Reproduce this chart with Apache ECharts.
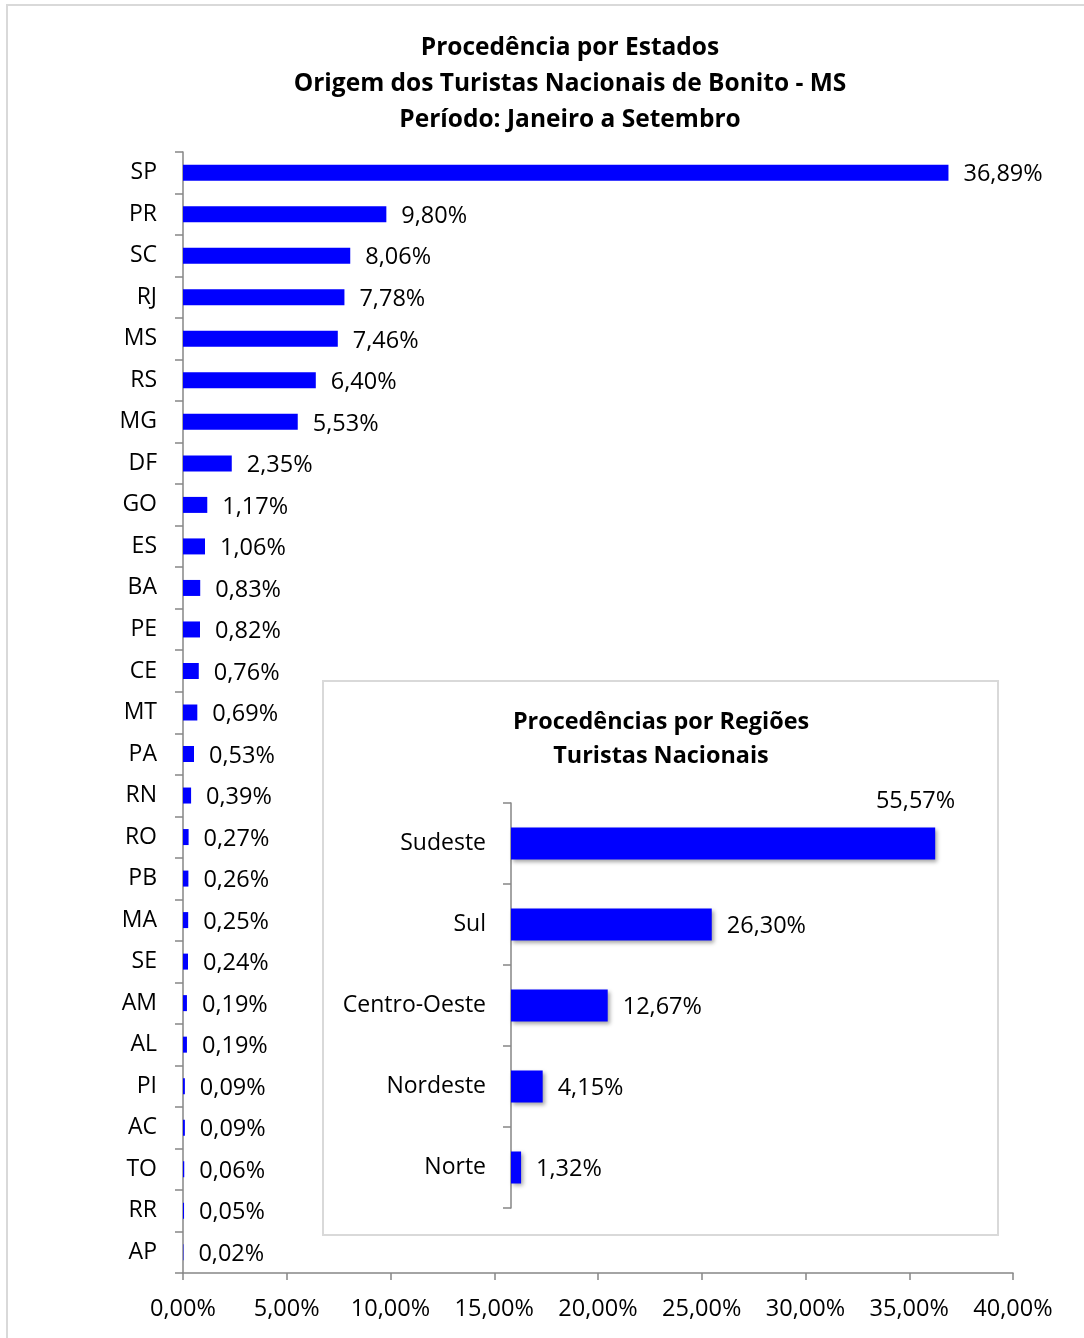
<!DOCTYPE html>
<html>
<head>
<meta charset="utf-8">
<script src="https://cdn.jsdelivr.net/npm/echarts@6/dist/echarts.min.js"></script>
<style>
html,body{margin:0;padding:0;background:#fff;}
#chart{width:1084px;height:1338px;}
</style>
</head>
<body>
<div id="chart"></div>
<script>
const states = ['SP','PR','SC','RJ','MS','RS','MG','DF','GO','ES','BA','PE','CE','MT','PA','RN','RO','PB','MA','SE','AM','AL','PI','AC','TO','RR','AP'];
const stateValues = [36.89,9.80,8.06,7.78,7.46,6.40,5.53,2.35,1.17,1.06,0.83,0.82,0.76,0.69,0.53,0.39,0.27,0.26,0.25,0.24,0.19,0.19,0.09,0.09,0.06,0.05,0.02];
const regions = ['Sudeste','Sul','Centro-Oeste','Nordeste','Norte'];
const regionValues = [55.57,26.30,12.67,4.15,1.32];
const mainTitle = 'Procedência por Estados\nOrigem dos Turistas Nacionais de Bonito - MS\nPeríodo: Janeiro a Setembro';
const insetTitle = 'Procedências por Regiões\nTuristas Nacionais';

const FONT = 'Open Sans';
const NUM = 23.5;
const CAT = 23;
const fmt = v => v.toFixed(2).replace('.', ',') + '%';
const axisGray = '#868686';

const chart = echarts.init(document.getElementById('chart'), null, {renderer: 'canvas'});

const regionData = regionValues.map((v, i) => i === 0 ? {
  value: v,
  label: {position: ['100%', -26], align: 'right', verticalAlign: 'middle', offset: [20, 0]}
} : v);

chart.setOption({
  animation: false,
  backgroundColor: '#fff',
  textStyle: {fontFamily: FONT},
  title: [
    {text: mainTitle, left: 565, top: 25, textAlign: 'center',
     textStyle: {fontFamily: FONT, fontSize: 24.5, fontWeight: 'bold', color: '#000', lineHeight: 36}},
    {text: insetTitle, left: 656, top: 700, textAlign: 'center',
     textStyle: {fontFamily: FONT, fontSize: 23.4, fontWeight: 'bold', color: '#000', lineHeight: 34}}
  ],
  graphic: [
    {type: 'rect', z: -10, shape: {x: 7, y: 5, width: 1100, height: 1360},
     style: {fill: '#fff', stroke: '#d9d9d9', lineWidth: 2}},
    {type: 'rect', z: -5, shape: {x: 323, y: 681, width: 675, height: 554},
     style: {fill: '#fff', stroke: '#d9d9d9', lineWidth: 2}}
  ],
  grid: [
    {left: 183, top: 152, width: 830, height: 1121},
    {left: 511, top: 803, width: 458, height: 405}
  ],
  xAxis: [
    {type: 'value', gridIndex: 0, min: 0, max: 40, interval: 5,
     axisLine: {show: true, lineStyle: {color: axisGray, width: 1.5}},
     axisTick: {show: true, length: 7, lineStyle: {color: axisGray, width: 1.5}},
     splitLine: {show: false},
     axisLabel: {fontFamily: FONT, fontSize: NUM, color: '#000', margin: 24,
       formatter: v => v.toFixed(2).replace('.', ',') + '%'}},
    {type: 'value', gridIndex: 1, min: 0, max: 60, show: false, splitLine: {show: false}}
  ],
  yAxis: [
    {type: 'category', gridIndex: 0, data: states, inverse: true,
     axisLine: {show: true, lineStyle: {color: axisGray, width: 1.5}},
     axisTick: {show: true, length: 8, lineStyle: {color: axisGray, width: 1.5}},
     axisLabel: {fontFamily: FONT, fontSize: CAT, color: '#000', margin: 26}},
    {type: 'category', gridIndex: 1, data: regions, inverse: true,
     axisLine: {show: true, lineStyle: {color: axisGray, width: 1.5}},
     axisTick: {show: true, length: 8, lineStyle: {color: axisGray, width: 1.5}},
     axisLabel: {fontFamily: FONT, fontSize: CAT, color: '#000', margin: 25}}
  ],
  series: [
    {type: 'bar', xAxisIndex: 0, yAxisIndex: 0, data: stateValues, barWidth: 16,
     itemStyle: {color: '#0000ff'},
     label: {show: true, position: 'right', distance: 15, offset: [0, 2], fontFamily: FONT, fontSize: NUM, color: '#000',
       formatter: p => fmt(p.value)}},
    {type: 'bar', xAxisIndex: 1, yAxisIndex: 1, data: regionData, barWidth: 32,
     itemStyle: {color: '#0000ff', shadowColor: 'rgba(0,0,0,0.35)', shadowBlur: 4, shadowOffsetX: 2, shadowOffsetY: 2},
     label: {show: true, position: 'right', distance: 15, offset: [0, 2], fontFamily: FONT, fontSize: NUM, color: '#000',
       formatter: p => fmt(p.value)}}
  ]
});
</script>
</body>
</html>
